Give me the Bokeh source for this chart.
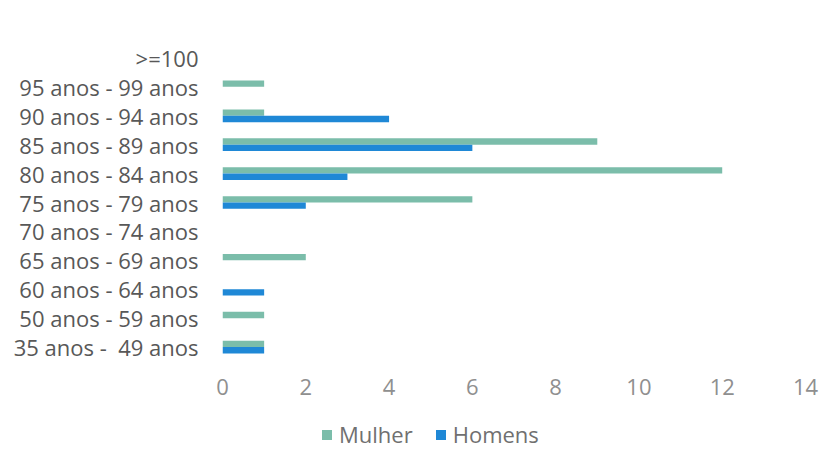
from bokeh.plotting import figure
from bokeh.models import ColumnDataSource, FactorRange, Legend, LegendItem
from bokeh.layouts import column
from bokeh.transform import dodge
from bokeh.embed import file_html
from bokeh.resources import INLINE

categories = ["35 anos -\u00a0 49 anos", "50 anos - 59 anos", "60 anos - 64 anos",
              "65 anos - 69 anos", "70 anos - 74 anos", "75 anos - 79 anos",
              "80 anos - 84 anos", "85 anos - 89 anos", "90 anos - 94 anos",
              "95 anos - 99 anos", ">=100"]
mulher = [1, 1, 0, 2, 0, 6, 12, 9, 1, 1, 0]
homens = [1, 0, 1, 0, 0, 2, 3, 6, 4, 0, 0]
x_ticks = [0, 2, 4, 6, 8, 10, 12, 14]
series_names = ["Mulher", "Homens"]
series_colors = ["#7bbdaa", "#1f88d6"]

src = ColumnDataSource(dict(cat=categories, mulher=mulher, homens=homens))

p = figure(width=822, height=400, output_backend="svg", toolbar_location=None,
           y_range=FactorRange(*categories, range_padding=0), x_range=(0, 14),
           min_border_left=222, min_border_right=17, min_border_top=43, min_border_bottom=39)
p.outline_line_color = None
p.background_fill_color = "white"
p.border_fill_color = "white"

p.hbar(y=dodge("cat", 0.11, range=p.y_range), right="mulher", left=0, height=0.22,
       source=src, fill_color=series_colors[0], line_color=None)
p.hbar(y=dodge("cat", -0.11, range=p.y_range), right="homens", left=0, height=0.22,
       source=src, fill_color=series_colors[1], line_color=None)

p.xgrid.visible = False
p.ygrid.visible = False

p.xaxis.ticker = x_ticks
p.xaxis.axis_line_color = None
p.xaxis.major_tick_line_color = None
p.xaxis.minor_tick_line_color = None
p.xaxis.major_label_text_color = "#8f8f8f"
p.xaxis.major_label_text_font = "Open Sans"
p.xaxis.major_label_text_font_size = "22px"
p.xaxis.major_label_standoff = 11

p.yaxis.axis_line_color = None
p.yaxis.major_tick_line_color = None
p.yaxis.major_tick_out = 0
p.yaxis.major_label_text_color = "#585858"
p.yaxis.major_label_text_font = "Open Sans"
p.yaxis.major_label_text_font_size = "22px"
p.yaxis.major_label_standoff = 24

# legend strip (its frame is aligned with the chart frame by the column layout)
lg = figure(width=822, height=49, output_backend="svg", toolbar_location=None,
            x_range=(0, 1), y_range=(0, 1),
            min_border_left=222, min_border_right=17, min_border_top=0, min_border_bottom=0)
lg.axis.visible = False
lg.grid.visible = False
lg.outline_line_color = None
lg.border_fill_color = "white"
lg.background_fill_color = "white"
swatch_src = ColumnDataSource(dict(x=[5], y=[5]))
items = []
for name, col in zip(series_names, series_colors):
    rr = lg.scatter(x="x", y="y", marker="square", size=10, source=swatch_src,
                    fill_color=col, line_color=None)
    items.append(LegendItem(label=name, renderers=[rr]))
legend = Legend(items=items, orientation="horizontal", location=(92, 0),
                label_text_font="Open Sans", label_text_font_size="22px",
                label_text_color="#707070", glyph_width=25, glyph_height=25,
                spacing=15, padding=0, margin=0, label_standoff=0,
                border_line_color=None, background_fill_alpha=0)
lg.add_layout(legend, "center")

layout = column(p, lg, spacing=0)
open("out.html", "w").write(file_html(layout, INLINE))
